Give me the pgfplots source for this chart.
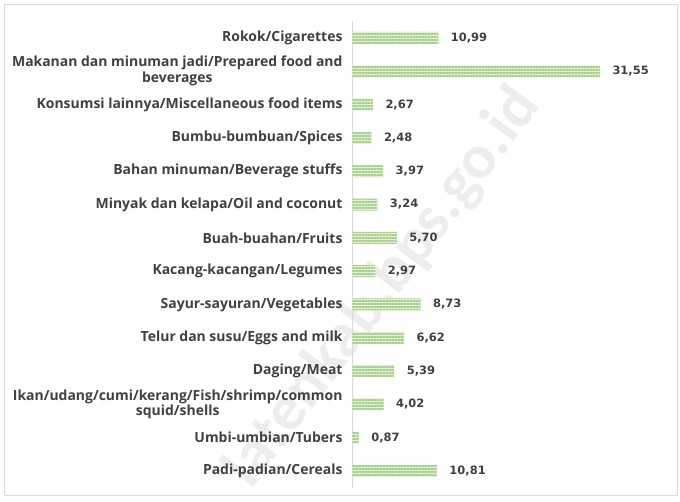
\documentclass[border=0pt]{standalone}
\usepackage{pgfplots}
\pgfplotsset{compat=1.18}
\usepackage{fontspec}
\setmainfont{Open Sans}
\newfontfamily\wmfont{Carlito}
\newfontfamily\valfont{DejaVu Sans}
\usetikzlibrary{patterns.meta}
\definecolor{barg}{HTML}{A9D18E}
\definecolor{barl}{HTML}{E2F0D9}
\definecolor{txt}{HTML}{404040}
\definecolor{frm}{HTML}{D9D9D9}
\definecolor{wm}{HTML}{EDEDED}
\begin{document}
\begin{tikzpicture}[x=1bp,y=1bp]
% page and frame
\fill[white] (0,0) rectangle (680,502);
\draw[frm,line width=0.8bp] (4,7) rectangle (677,498);
% watermark
\node[wm,rotate=53,font=\wmfont\bfseries\fontsize{63}{66}\selectfont] at (383,214) {latenkab.bps.go.id};
\begin{axis}[
    at={(352bp,14.35bp)}, anchor=south west,
    scale only axis,
    width=314.4bp, height=466.3bp,
    xbar, bar width=12bp,
    xmin=0, xmax=40,
    ymin=-0.5, ymax=13.5,
    y dir=reverse,
    hide x axis,
    axis y line*=left,
    y axis line style={frm,line width=0.8bp,-},
    ytick={0,...,13},
    major tick length=0pt,
    yticklabels={
      Rokok/Cigarettes,
      {Makanan dan minuman jadi/Prepared food and\\beverages},
      Konsumsi lainnya/Miscellaneous food items,
      Bumbu-bumbuan/Spices,
      Bahan minuman/Beverage stuffs,
      Minyak dan kelapa/Oil and coconut,
      Buah-buahan/Fruits,
      Kacang-kacangan/Legumes,
      Sayur-sayuran/Vegetables,
      Telur dan susu/Eggs and milk,
      Daging/Meat,
      {Ikan/udang/cumi/kerang/Fish/shrimp/common\\squid/shells},
      Umbi-umbian/Tubers,
      Padi-padian/Cereals},
    yticklabel style={align=center, font=\bfseries\fontsize{14}{16}\selectfont, text=txt, xshift=-6bp},
    point meta=x,
    nodes near coords={\pgfmathprintnumber[fixed,fixed zerofill,precision=2,use comma,assume math mode=true]{\pgfplotspointmeta}},
    nodes near coords style={font=\valfont\bfseries\fontsize{11.5}{14}\selectfont, text=txt, xshift=9bp},
    clip=false,
]
\addplot[draw=none, fill=barl, postaction={pattern={Lines[angle=0,distance=3bp,line width=1.5bp]}, pattern color=barg}]
  coordinates {
    (10.99,0)
    (31.55,1)
    (2.67,2)
    (2.48,3)
    (3.97,4)
    (3.24,5)
    (5.70,6)
    (2.97,7)
    (8.73,8)
    (6.62,9)
    (5.39,10)
    (4.02,11)
    (0.87,12)
    (10.81,13)
  };
\end{axis}
\end{tikzpicture}
\end{document}
